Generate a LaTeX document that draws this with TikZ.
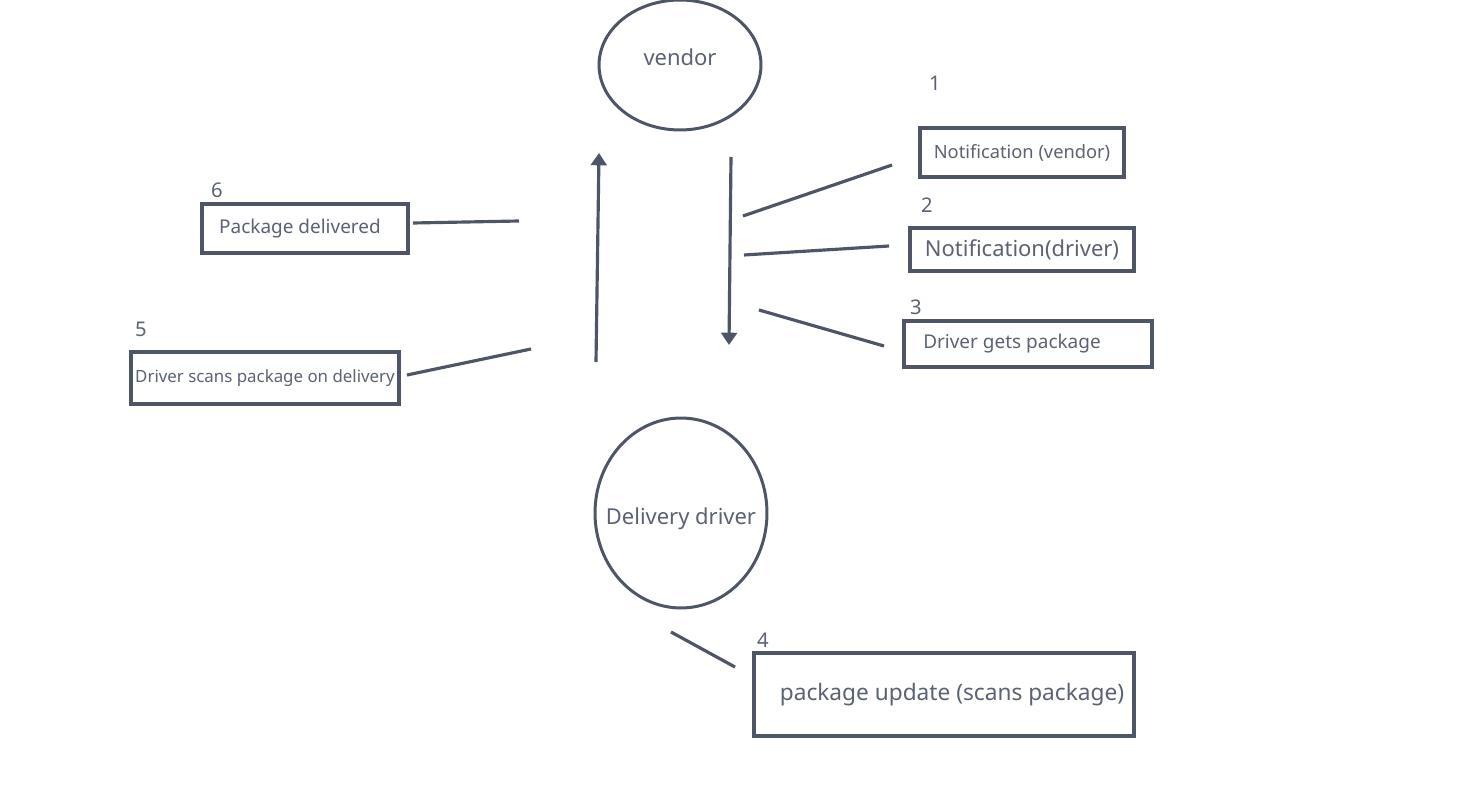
\documentclass[tikz,border=0pt]{standalone}
\usepackage{fontspec}
\setmainfont{Noto Sans}
\usetikzlibrary{positioning,shapes.geometric,arrows.meta}
\definecolor{inkline}{HTML}{4D5567}
\definecolor{inktext}{HTML}{5B6275}

\begin{document}
\begin{tikzpicture}[
    x=0.02cm, y=-0.02cm,
    actor/.style={
        ellipse,
        draw=inkline,
        line width=1.7pt,
        inner sep=0pt
    },
    actor text/.style={
        text=inktext,
        font=\fontsize{12.5}{14}\selectfont
    },
    stepbox/.style={
        rectangle,
        draw=inkline,
        line width=1.8pt,
        inner sep=0pt,
        text=inktext,
        text centered
    },
    stepnum/.style={
        text=inktext,
        inner sep=0pt,
        font=\fontsize{11.5}{13}\selectfont
    },
    link/.style={
        draw=inkline,
        line width=1.8pt
    },
    flow/.style={
        draw=inkline,
        line width=1.8pt,
        -{Triangle[length=7pt,width=9pt]}
    }
]

\fill[white] (0,0) rectangle (1482,787);
\useasboundingbox (0,0) rectangle (1482,787);

% Actors
\node [actor, minimum width=3.24cm, minimum height=2.6cm] (vendor) at (680,65) {};
\node [actor text] (vendor-txt) at (680,57) {vendor};
\node [actor, minimum width=3.44cm, minimum height=3.8cm] (driver) at (681,513) {};
\node [actor text] (driver-txt) at (681,519) {Delivery driver};

% Steps to the right
\node [stepbox, minimum width=4.08cm, minimum height=0.98cm, font=\fontsize{10.4}{12}\selectfont] (step-1) at (1022,152.5) {Notification (vendor)};
\node [stepnum] (num-1) at (935,83) {1};

\node [stepbox, minimum width=4.48cm, minimum height=0.86cm, font=\fontsize{12.5}{14}\selectfont] (step-2) at (1022,249.5) {Notification(driver)};
\node [stepnum] (num-2) at (927,205) {2};

\node [stepbox, minimum width=4.96cm, minimum height=0.92cm, font=\fontsize{10.8}{12}\selectfont] (step-3) at (1028,344) {\hspace*{-0.64cm}Driver gets package};
\node [stepnum] (num-3) at (916,307) {3};

\node [stepbox, minimum width=7.6cm, minimum height=1.66cm, font=\fontsize{12.9}{14}\selectfont] (step-4) at (944,694.5) {\hspace*{0.32cm}package update (scans package)};
\node [stepnum] (num-4) at (763,640) {4};

% Steps to the left
\node [stepbox, minimum width=5.36cm, minimum height=1.04cm, font=\fontsize{9.6}{11}\selectfont] (step-5) at (265,378) {Driver scans package on delivery};
\node [stepnum] (num-5) at (141,329) {5};

\node [stepbox, minimum width=4.12cm, minimum height=0.98cm, font=\fontsize{10.8}{12}\selectfont] (step-6) at (305,228.5) {\hspace*{-0.2cm}Package delivered};
\node [stepnum] (num-6) at (217,190) {6};

% Free ends of the connectors
\coordinate (down-top) at (731,157);
\coordinate (down-end) at (729,345);
\coordinate (up-start) at (596,362);
\coordinate (up-top) at (599,153);
\coordinate (link-1) at (743,216);
\coordinate (link-2) at (744,255);
\coordinate (link-3) at (759,310);
\coordinate (link-4) at (671,632);
\coordinate (link-5) at (531,349);
\coordinate (link-6) at (519,221);
\coordinate (tip-1) at (892,165);
\coordinate (tip-2) at (889,246);
\coordinate (tip-3) at (884,346);
\coordinate (tip-4) at (735,667);
\coordinate (tip-5) at (407,375);
\coordinate (tip-6) at (413,223);

% Draw the connections
\draw [flow] (down-top) -- (down-end);
\draw [flow] (up-start) -- (up-top);

\foreach \i in {1,...,6}
    \draw [link] (link-\i) -- (tip-\i);

\end{tikzpicture}
\end{document}
